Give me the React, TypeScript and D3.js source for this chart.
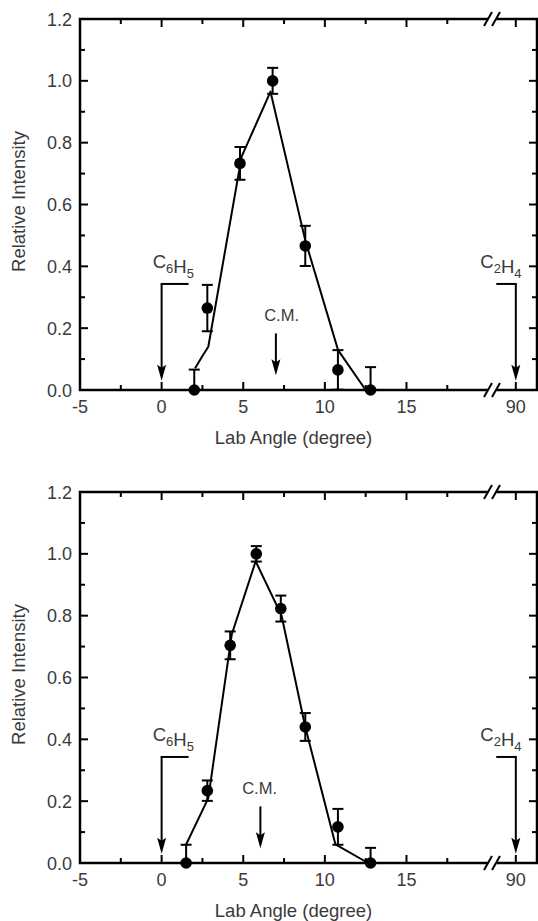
import { useRef, useEffect } from 'react';
import * as d3 from 'd3';

// axis ticks
const xMajor = [-5, 0, 5, 10, 15, 90];
const xMinor = [-2.5, 2.5, 7.5, 12.5, 17.5];
const yMajor = [0, 0.2, 0.4, 0.6, 0.8, 1.0, 1.2];
const yMinor = [0.1, 0.3, 0.5, 0.7, 0.9, 1.1];

// upper panel: measured points, error bars, fit curve
const topAngle = [2.0, 2.8, 4.8, 6.8, 8.8, 10.8, 12.8];
const topIntensity = [0.0, 0.265, 0.733, 1.0, 0.466, 0.065, 0.0];
const topError = [0.066, 0.075, 0.053, 0.042, 0.065, 0.064, 0.074];
const topFitAngle = [2.05, 2.5, 2.86, 4.9, 6.67, 8.8, 10.81, 12.5];
const topFitIntensity = [0.07, 0.11, 0.14, 0.755, 0.965, 0.484, 0.129, 0.0];
const topCM = 7.0;
const topCMLabel = 7.35;

// lower panel
const botAngle = [1.5, 2.8, 4.2, 5.8, 7.3, 8.8, 10.8, 12.8];
const botIntensity = [0.0, 0.234, 0.704, 1.0, 0.823, 0.44, 0.117, 0.0];
const botError = [0.059, 0.033, 0.045, 0.025, 0.042, 0.045, 0.058, 0.049];
const botFitAngle = [1.5, 2.86, 4.3, 5.76, 7.35, 8.8, 10.65, 12.65];
const botFitIntensity = [0.06, 0.21, 0.74, 0.976, 0.80, 0.44, 0.06, 0.0];
const botCM = 6.05;
const botCMLabel = 6.0;

const FONT = '"Liberation Sans", Arial, sans-serif';
const TXT = '#3a3a3a';

export default function App() {
  const ref = useRef<SVGSVGElement>(null);

  useEffect(() => {
    const svg = d3.select(ref.current);
    svg.selectAll('*').remove();

    const x = d3.scaleLinear().domain([-5, 20.3, 88.6, 91.3]).range([80, 493, 493, 537]);
    const breakX = 492;

    const drawPanel = (y0: number, y1: number, angle: number[], inten: number[], err: number[],
      fa: number[], fi: number[], cm: number, cmLabel: number) => {
      const y = d3.scaleLinear().domain([0, 1.2]).range([y0, y1]);
      const g = svg.append('g');
      const L = x(-5), R = x(91.3), B = y(0), T = y(1.2);

      // frame
      g.append('rect').attr('x', L).attr('y', T).attr('width', R - L).attr('height', B - T)
        .attr('fill', 'none').attr('stroke', '#000').attr('stroke-width', 2.5);

      // ticks
      const tick = (v: number, len: number) => {
        g.append('line').attr('x1', x(v)).attr('x2', x(v)).attr('y1', B).attr('y2', B - len)
          .attr('stroke', '#000').attr('stroke-width', 2);
        g.append('line').attr('x1', x(v)).attr('x2', x(v)).attr('y1', T).attr('y2', T + len)
          .attr('stroke', '#000').attr('stroke-width', 2);
      };
      xMajor.forEach(v => tick(v, 8));
      xMinor.forEach(v => tick(v, 5));
      const ytick = (v: number, len: number) => {
        g.append('line').attr('x1', L).attr('x2', L + len).attr('y1', y(v)).attr('y2', y(v))
          .attr('stroke', '#000').attr('stroke-width', 2);
        g.append('line').attr('x1', R).attr('x2', R - len).attr('y1', y(v)).attr('y2', y(v))
          .attr('stroke', '#000').attr('stroke-width', 2);
      };
      yMajor.forEach(v => ytick(v, 8));
      yMinor.forEach(v => ytick(v, 5));

      // axis break marks
      [B, T].forEach(yy => {
        g.append('polygon')
          .attr('points', `${breakX - 4},${yy + 3} ${breakX + 4},${yy + 3} ${breakX + 5},${yy - 3} ${breakX - 3},${yy - 3}`)
          .attr('fill', '#fff');
        [breakX - 4, breakX + 4].forEach(c => {
          g.append('line').attr('x1', c - 4).attr('y1', yy + 7).attr('x2', c + 4).attr('y2', yy - 7)
            .attr('stroke', '#000').attr('stroke-width', 2);
        });
      });

      // tick labels
      g.selectAll('text.xl').data(xMajor).enter().append('text')
        .attr('x', d => x(d)).attr('y', B + 23).attr('text-anchor', 'middle')
        .attr('font-family', FONT).attr('font-size', 18).attr('fill', TXT)
        .text(d => String(d));
      g.selectAll('text.yl').data(yMajor).enter().append('text')
        .attr('x', L - 8).attr('y', d => y(d) + 6.5).attr('text-anchor', 'end')
        .attr('font-family', FONT).attr('font-size', 18).attr('fill', TXT)
        .text(d => d.toFixed(1));

      // axis titles
      g.append('text').attr('x', (x(-5) + x(20.3)) / 2 + 7).attr('y', B + 54).attr('text-anchor', 'middle')
        .attr('font-family', FONT).attr('font-size', 18.5).attr('fill', TXT)
        .text('Lab Angle (degree)');
      g.append('text').attr('transform', `translate(25,${(B + T) / 2 - 3}) rotate(-90)`)
        .attr('text-anchor', 'middle')
        .attr('font-family', FONT).attr('font-size', 18.5).attr('fill', TXT)
        .text('Relative Intensity');

      // fit curve
      const line = d3.line<number>().x((_, i) => x(fa[i])).y(d => y(d));
      g.append('path').attr('d', line(fi)).attr('fill', 'none')
        .attr('stroke', '#000').attr('stroke-width', 2).attr('stroke-linejoin', 'round');

      // error bars + points
      angle.forEach((a, i) => {
        const cx = x(a);
        const hi = y(inten[i] + err[i]);
        const lo = y(Math.max(0, inten[i] - err[i]));
        g.append('line').attr('x1', cx).attr('x2', cx).attr('y1', hi).attr('y2', lo)
          .attr('stroke', '#000').attr('stroke-width', 2);
        [hi, lo].forEach(yy => g.append('line').attr('x1', cx - 5.5).attr('x2', cx + 5.5)
          .attr('y1', yy).attr('y2', yy).attr('stroke', '#000').attr('stroke-width', 2));
        g.append('circle').attr('cx', cx).attr('cy', y(inten[i])).attr('r', 5.8).attr('fill', '#000');
      });

      // arrows
      const arrow = (ax: number, yTop: number, yTip: number) => {
        const px = x(ax), pt = y(yTip);
        g.append('line').attr('x1', px).attr('x2', px).attr('y1', y(yTop)).attr('y2', pt - 12)
          .attr('stroke', '#000').attr('stroke-width', 2);
        g.append('path').attr('d', `M${px},${pt} L${px - 4.5},${pt - 16} L${px},${pt - 13} L${px + 4.5},${pt - 16} Z`)
          .attr('fill', '#000');
      };
      const bracketY = 0.343;
      arrow(0, bracketY, 0.03);
      g.append('line').attr('x1', x(0) - 1).attr('x2', x(1.65)).attr('y1', y(bracketY)).attr('y2', y(bracketY))
        .attr('stroke', '#000').attr('stroke-width', 2);
      arrow(90, bracketY, 0.03);
      g.append('line').attr('x1', x(88.8)).attr('x2', x(90) + 1).attr('y1', y(bracketY)).attr('y2', y(bracketY))
        .attr('stroke', '#000').attr('stroke-width', 2);
      arrow(cm, 0.183, 0.048);

      // labels
      const formula = (tx: number, anchor: string, parts: [string, string][]) => {
        const t = g.append('text').attr('x', x(tx)).attr('y', y(0.395)).attr('text-anchor', anchor)
          .attr('font-family', FONT).attr('font-size', 18.5).attr('fill', TXT);
        parts.forEach(([main, sub]) => {
          t.append('tspan').attr('dy', 0).text(main);
          t.append('tspan').attr('font-size', 13).attr('dy', 5).text(sub);
          t.append('tspan').attr('dy', -5).text('');
        });
      };
      formula(-0.55, 'start', [['C', '6'], ['H', '5']]);
      formula(90.35, 'end', [['C', '2'], ['H', '4']]);
      g.append('text').attr('x', x(cmLabel)).attr('y', y(0.222)).attr('text-anchor', 'middle')
        .attr('font-family', FONT).attr('font-size', 16.5).attr('fill', TXT).text('C.M.');
    };

    drawPanel(390, 19, topAngle, topIntensity, topError, topFitAngle, topFitIntensity, topCM, topCMLabel);
    drawPanel(863, 492, botAngle, botIntensity, botError, botFitAngle, botFitIntensity, botCM, botCMLabel);
  }, []);

  return (
    <svg ref={ref} width={538} height={921}
      style={{ position: 'absolute', left: 0, top: 0, display: 'block', background: '#fff' }} />
  );
}
